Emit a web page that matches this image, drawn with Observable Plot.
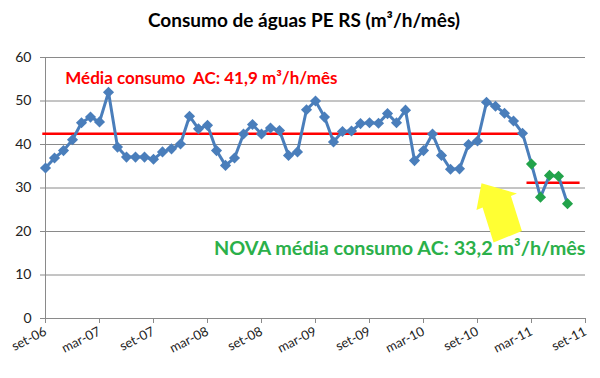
<!DOCTYPE html>
<html><head><meta charset="utf-8">
<script src="https://cdn.jsdelivr.net/npm/d3@7"></script>
<script src="https://cdn.jsdelivr.net/npm/@observablehq/plot@0.6"></script>
<style>
body{margin:0;background:#fff;width:600px;height:378px;overflow:hidden;font-family:Lato,sans-serif}
#title{height:40px;line-height:40px;text-align:center;font-weight:bold;font-size:19px;color:#000;padding-left:8px}
</style></head><body>
<div id="title">Consumo de águas PE RS (m³/h/mês)</div>
<div id="chart"></div>
<script>
// Month index 0 = set-06
const tickLabels = ["set-06","mar-07","set-07","mar-08","set-08","mar-09","set-09","mar-10","set-10","mar-11","set-11"];
const consumo = [34.6,36.9,38.6,41.1,45.0,46.3,45.2,52.0,39.4,37.1,37.1,37.1,36.6,38.3,39.0,40.1,46.5,43.6,44.4,38.6,
  35.2,36.9,42.4,44.6,42.4,43.8,43.2,37.5,38.3,48.0,50.0,46.3,40.6,43.0,43.1,44.8,45.0,44.9,47.1,45.0,
  47.9,36.3,38.6,42.4,37.5,34.3,34.4,40.0,40.8,49.7,48.8,47.2,45.4,42.6,35.5,27.9,32.9,32.7,26.4];
const novaFase = 54; // first month of new period (green points)
const mediaNiveis = [42.5, 31.2];
const mediaInicio = [-0.3, 53.5];
const mediaFim = [53.2, 59.4];
const rotulos = ["Média consumo  AC: 41,9 m³/h/mês", "NOVA média consumo AC: 33,2 m³/h/mês"];
const setaX = [48.5, 52.44, 51.77, 52.99, 49.84, 48.62, 47.94];
const setaY = [31.0, 28.62, 28.05, 20.0, 17.36, 25.4, 24.83];

const data = consumo.map((v, i) => ({i, v, nova: i >= novaFase}));
const medias = mediaNiveis.map((y, k) => ({y, x1: mediaInicio[k], x2: mediaFim[k]}));
const seta = setaX.map((x, k) => [x, setaY[k]]);

const arrowMark = (index, scales) => {
  const pts = seta.map(([x, y]) => `${scales.x(x)},${scales.y(y)}`).join(" ");
  const g = document.createElementNS("http://www.w3.org/2000/svg", "polygon");
  g.setAttribute("points", pts);
  g.setAttribute("fill", "#ffff33");
  return g;
};

const chart = Plot.plot({
  width: 600, height: 338,
  marginLeft: 45, marginRight: 15, marginTop: 17, marginBottom: 60,
  style: {fontFamily: "Lato, sans-serif", background: "#fff"},
  x: {domain: [0, 60], axis: null},
  y: {domain: [0, 60], axis: null},
  marks: [
    Plot.gridY(d3.range(0, 61, 10), {stroke: "#8a8a8a", strokeOpacity: 1}),
    Plot.ruleX([0], {stroke: "#8a8a8a", y1: 0, y2: 60}),
    Plot.ruleY([0], {stroke: "#8a8a8a"}),
    Plot.axisY({ticks: d3.range(0, 61, 10), tickSize: 5, tickPadding: 9, fontSize: 14, stroke: "#8a8a8a", fill: "#222"}),
    Plot.axisX({ticks: d3.range(0, 61, 6), tickFormat: d => tickLabels[d / 6], tickRotate: -27, tickSize: 5, tickPadding: 7, fontSize: 13, stroke: "#8a8a8a", fill: "#222"}),
    arrowMark,
    Plot.ruleY(medias, {y: "y", x1: "x1", x2: "x2", stroke: "#ff0000", strokeWidth: 2.5}),
    Plot.line(data, {x: "i", y: "v", stroke: "#4a7ebb", strokeWidth: 3}),
    Plot.dot(data, {x: "i", y: "v", symbol: "diamond2", r: 5, fill: d => d.nova ? "#22a34a" : "#4a7ebb", stroke: "none"}),
    Plot.text([rotulos[0]], {x: 2.2, y: 55.2, text: d => d, textAnchor: "start", fill: "#ff0000", fontWeight: "bold", fontSize: 17}),
    Plot.text([rotulos[1]], {x: 60, y: 16.1, text: d => d, textAnchor: "end", fill: "#2bb04a", fontWeight: "bold", fontSize: 19.8})
  ]
});
document.getElementById("chart").appendChild(chart);
</script>
</body></html>
